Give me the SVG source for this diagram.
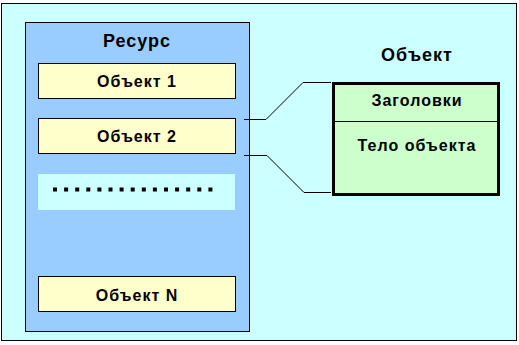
<svg xmlns="http://www.w3.org/2000/svg" width="519" height="345" viewBox="0 0 519 345">
<style>
text{font-family:"Liberation Sans",Arial,sans-serif;font-weight:bold;fill:#000;text-anchor:middle}
.lbl{font-size:16px;letter-spacing:1px}
.ttl{font-size:18px;letter-spacing:1px}
.obj{fill:#FFFFCC;stroke:#000;stroke-width:1}
.conn{fill:none;stroke:#000;stroke-width:1}
</style>
<rect x="1.5" y="3.5" width="515" height="337" fill="#CCFFFF" stroke="#000"/>
<g id="resource">
<rect x="25.5" y="22.5" width="224" height="309" fill="#99CCFF" stroke="#000"/>
<text class="ttl" x="137" y="47">Ресурс</text>
</g>
<g id="obj1">
<rect class="obj" x="38.5" y="63.5" width="197" height="35"/>
<text class="lbl" x="137" y="87">Объект 1</text>
</g>
<g id="obj2">
<rect class="obj" x="38.5" y="118.5" width="197" height="35"/>
<text class="lbl" x="137" y="142">Объект 2</text>
</g>
<g id="dots">
<rect x="38" y="174" width="197" height="36" fill="#CCFFFF"/>
<line x1="53" y1="189.5" x2="214" y2="189.5" stroke="#000" stroke-width="4" stroke-dasharray="4,7.1"/>
</g>
<g id="objN">
<rect class="obj" x="38.5" y="276.5" width="197" height="35"/>
<text class="lbl" x="137" y="301">Объект N</text>
</g>
<g id="object">
<text class="ttl" x="417" y="61">Объект</text>
<rect x="333.5" y="83.5" width="165" height="111" fill="#CCFFCC" stroke="#000" stroke-width="3"/>
<line x1="333" y1="121.5" x2="498" y2="121.5" stroke="#000"/>
<text class="lbl" x="417" y="106">Заголовки</text>
<text class="lbl" x="417" y="151">Тело объекта</text>
</g>
<g id="connectors">
<polyline class="conn" points="244,119.5 266,119.5 303,82.5 331,82.5"/>
<polyline class="conn" points="244,155.5 267,155.5 304,192.5 331,192.5"/>
</g>
</svg>
